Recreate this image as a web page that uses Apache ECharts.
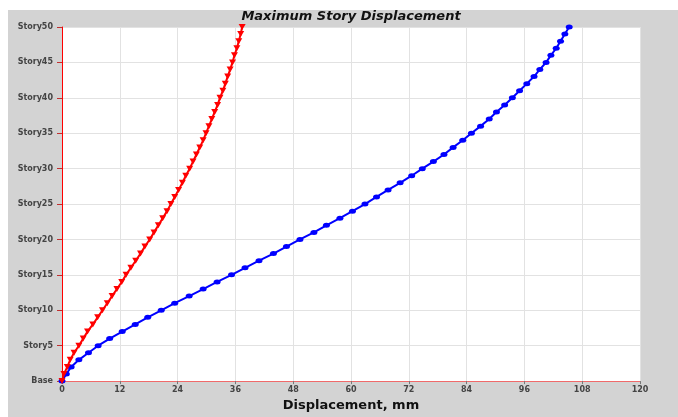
<!DOCTYPE html>
<html>
<head>
<meta charset="utf-8">
<script src="https://cdn.jsdelivr.net/npm/echarts@6/dist/echarts.min.js"></script>
<style>
html,body{margin:0;padding:0;background:#ffffff;width:678px;height:417px;overflow:hidden;}
#wrap{position:absolute;left:8px;top:10px;width:670px;height:407px;background:#d3d3d3;}
#chart{width:670px;height:407px;}
</style>
</head>
<body>
<div id="wrap"><div id="chart"></div></div>
<script>
// Story index 0 = Base, 1..50 = Story1..Story50
var storyIndex = [];
for (var i = 0; i <= 50; i++) storyIndex.push(i);

var yTickLabels = ['Base','Story5','Story10','Story15','Story20','Story25','Story30','Story35','Story40','Story45','Story50'];
var xTicks = [0,12,24,36,48,60,72,84,96,108,120];

// Displacement (mm), Base..Story50
var redDisp = [0,0.4,1.1,1.7,2.5,3.5,4.4,5.3,6.4,7.4,8.4,9.4,10.4,11.4,12.4,13.3,14.3,15.3,16.3,17.2,18.2,
  19.1,20.0,20.9,21.8,22.6,23.4,24.2,25.0,25.7,26.5,27.2,27.9,28.6,29.3,29.9,30.5,31.1,31.7,32.3,32.8,
  33.4,33.9,34.4,34.9,35.4,35.8,36.3,36.7,37.1,37.4];
var blueDisp = [0,0.9,1.9,3.5,5.5,7.5,9.9,12.5,15.2,17.8,20.6,23.4,26.4,29.3,32.2,35.2,38.0,40.9,43.9,46.6,49.4,
  52.3,54.9,57.7,60.3,62.9,65.3,67.7,70.2,72.6,74.8,77.1,79.3,81.2,83.2,85.0,86.9,88.7,90.2,91.9,93.5,
  95.0,96.5,98.0,99.2,100.5,101.5,102.6,103.5,104.4,105.3];

function pairs(arr){ return arr.map(function(v,i){ return [v, storyIndex[i]]; }); }

var chart = echarts.init(document.getElementById('chart'));
chart.setOption({
  animation: false,
  backgroundColor: 'transparent',
  title: {
    text: 'Maximum Story Displacement',
    left: 343,
    textAlign: 'center',
    top: 0,
    padding: 0,
    textStyle: {fontFamily: 'DejaVu Sans', fontSize: 13, fontWeight: 'bold', fontStyle: 'italic', color: '#111'}
  },
  grid: {left: 54, right: 38, top: 17, bottom: 27, containLabel: false,
         show: true, backgroundColor: '#ffffff', borderWidth: 0},
  xAxis: {
    type: 'value', min: xTicks[0], max: xTicks[xTicks.length-1], interval: 12,
    name: 'Displacement, mm', nameLocation: 'middle', nameGap: 16,
    nameTextStyle: {fontFamily: 'DejaVu Sans', fontSize: 13, fontWeight: 'bold', color: '#111'},
    axisLine: {show: true, lineStyle: {color: '#f06a6a', width: 1}},
    axisTick: {show: true, length: 3, lineStyle: {color: '#777'}},
    axisLabel: {fontFamily: 'DejaVu Sans', fontSize: 8, fontWeight: 'bold', color: '#444', margin: 5},
    splitLine: {show: true, lineStyle: {color: '#e2e2e2', width: 1}}
  },
  yAxis: {
    type: 'value', min: 0, max: 50, interval: 5,
    axisLine: {show: true, onZero: false, lineStyle: {color: '#ff0000', width: 1}},
    axisTick: {show: true, length: 5, lineStyle: {color: '#c03030'}},
    axisLabel: {fontFamily: 'DejaVu Sans', fontSize: 8, fontWeight: 'bold', color: '#444', margin: 9,
      formatter: function(v){ return yTickLabels[Math.round(v/5)]; }},
    splitLine: {show: true, lineStyle: {color: '#e2e2e2', width: 1}}
  },
  series: [
    {
      type: 'line', data: pairs(blueDisp),
      lineStyle: {color: '#0000ff', width: 2},
      itemStyle: {color: '#0000ff'},
      symbol: 'circle', symbolSize: [7, 5], showSymbol: true
    },
    {
      type: 'line', data: pairs(redDisp),
      lineStyle: {color: '#ff0000', width: 2},
      itemStyle: {color: '#ff0000'},
      symbol: 'triangle', symbolRotate: 180, symbolSize: [7, 6], showSymbol: true
    }
  ]
});
</script>
</body>
</html>
